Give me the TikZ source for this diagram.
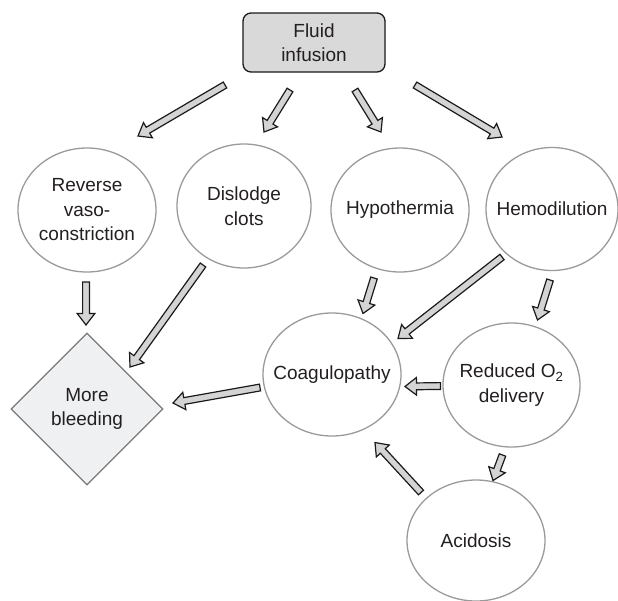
\documentclass[tikz,border=0pt]{standalone}
\usepackage{fontspec}
\setmainfont{Liberation Sans}
\usetikzlibrary{calc,shapes.geometric}
\definecolor{txt}{HTML}{231F20}
\definecolor{ringc}{HTML}{9A9A9A}
\definecolor{boxfill}{HTML}{D9D9D9}
\definecolor{dfill}{HTML}{EFF0F2}
\definecolor{dline}{HTML}{7A7A7A}
\definecolor{afill}{HTML}{D4D4D4}
\definecolor{aline}{HTML}{1A1A1A}
\tikzset{
  every node/.style={text=txt, font=\fontsize{19}{24.5}\selectfont, align=center},
  ring/.style={ellipse, draw=ringc, line width=1.3pt, inner sep=0pt},
  topbox/.style={rectangle, rounded corners=8pt, draw=aline, fill=boxfill, line width=1.3pt, minimum width=142pt, minimum height=59pt, inner sep=0pt},
  endbox/.style={diamond, draw=dline, fill=dfill, line width=1.3pt, minimum width=152pt, minimum height=152pt, inner sep=0pt},
  barrowstyle/.style={draw=aline, fill=afill, line width=1.2pt, line join=miter}
}
\newcommand\barrow[2]{%
  \path[barrowstyle] let \p1=(#1), \p2=(#2),
    \n1={atan2(\y2-\y1,\x2-\x1)}, \n2={veclen(\x2-\x1,\y2-\y1)},
    \n3={\n2-11.5pt}, \n4={\n1+90} in
    ($(\p1)+(\n4:3.4pt)$) -- ($(\p1)+(\n1:\n3)+(\n4:3.4pt)$)
    -- ($(\p1)+(\n1:\n3)+(\n4:8.8pt)$) -- (\p2)
    -- ($(\p1)+(\n1:\n3)+(\n4:-8.8pt)$) -- ($(\p1)+(\n1:\n3)+(\n4:-3.4pt)$)
    -- ($(\p1)+(\n4:-3.4pt)$) -- cycle;}
\begin{document}
\begin{tikzpicture}[x=1pt,y=-1pt]
\useasboundingbox (0,0) rectangle (618,600);
\node[topbox] (fluid) at (314,42.5) {Fluid\\infusion};
\node[ring, minimum width=138pt, minimum height=124pt, label={center:Reverse\\vaso-\\constriction}] (rev) at (87,210) {};
\node[ring, minimum width=134pt, minimum height=124pt, label={center:Dislodge\\clots}] (dis) at (244,206) {};
\node[ring, minimum width=138pt, minimum height=124pt, label={center:Hypothermia}] (hypo) at (400,210) {};
\node[ring, minimum width=132pt, minimum height=123pt, label={center:Hemodilution}] (hemo) at (552,209) {};
\node[ring, minimum width=138pt, minimum height=123pt, label={center:Coagulopathy}] (coag) at (332,374.5) {};
\node[ring, minimum width=137pt, minimum height=124pt, label={center:Reduced O\textsubscript{2}\\delivery}] (red) at (511.5,385) {};
\node[ring, minimum width=138pt, minimum height=121pt, label={center:Acidosis}] (acid) at (476,540.5) {};
\node[endbox] (bleed) at (87,409) {More\\bleeding};
\barrow{$(fluid)+(-89,42.5)$}{$(rev)+(51,-74)$}
\barrow{$(fluid)+(-24,47.5)$}{$(dis)+(20,-74)$}
\barrow{$(fluid)+(41,47.5)$}{$(hypo)+(-19,-78)$}
\barrow{$(fluid)+(101,42.5)$}{$(hemo)+(-50,-72)$}
\barrow{$(rev)+(-1,72)$}{$(bleed)+(-1,-84)$}
\barrow{$(dis)+(-41,59)$}{$(bleed)+(43,-42)$}
\barrow{$(coag)+(-72,13)$}{$(bleed)+(86,-6)$}
\barrow{$(hypo)+(-26,68)$}{$(coag)+(31,-61)$}
\barrow{$(hemo)+(-50,48)$}{$(coag)+(66,-36)$}
\barrow{$(hemo)+(-2,71)$}{$(red)+(26,-65)$}
\barrow{$(red)+(-71,1)$}{$(coag)+(73,12)$}
\barrow{$(red)+(-9,70)$}{$(acid)+(17,-60)$}
\barrow{$(acid)+(-55,-48)$}{$(coag)+(43,68)$}
\end{tikzpicture}
\end{document}
